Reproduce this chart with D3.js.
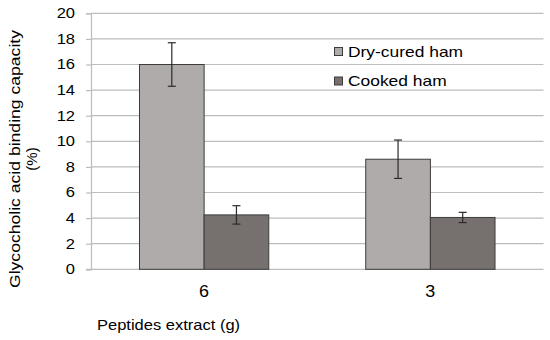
<!DOCTYPE html>
<html>
<head>
<meta charset="utf-8">
<script src="https://cdn.jsdelivr.net/npm/d3@7"></script>
<style>
  body { margin: 0; background: #fff; }
  svg { display: block; font-family: "Liberation Sans", Arial, sans-serif; }
</style>
</head>
<body>
<script>
"use strict";

// data
var categories = ["6", "3"];
var seriesNames = ["Dry-cured ham", "Cooked ham"];
var dryCured = [16.0, 8.6];
var dryCuredErr = [1.7, 1.5];
var cooked = [4.25, 4.05];
var cookedErr = [0.72, 0.4];
var yTicks = [0, 2, 4, 6, 8, 10, 12, 14, 16, 18, 20];

var colors = ["#afabaa", "#76716f"];

// stretch text horizontally (the picture is a bit wide)
function stretch(sel, sx) {
    sel.each(function() {
        var w = this.getComputedTextLength();
        d3.select(this).attr("textLength", w * sx).attr("lengthAdjust", "spacingAndGlyphs");
    });
}

(function() {
    var W = 550, H = 340;
    var left = 91, right = 543.5, top = 13.3, bottom = 269.3;

    var svg = d3.select("body").append("svg")
        .attr("width", W).attr("height", H);

    var y = d3.scaleLinear().domain([0, 20]).range([bottom, top]);
    var x0 = d3.scaleBand().domain(categories).range([left, right]).padding(0);
    var x1 = d3.scaleBand().domain(seriesNames).range([0, x0.bandwidth()])
        .paddingInner(0).paddingOuter(0.75);

    // gridlines
    svg.append("g").selectAll("line")
        .data(yTicks.filter(function(d) { return d > 0; }))
        .enter().append("line")
        .attr("x1", left).attr("x2", right)
        .attr("y1", function(d) { return y(d); })
        .attr("y2", function(d) { return y(d); })
        .attr("stroke", "#bdbdbd").attr("stroke-width", 1.2);

    // y axis
    var yAxis = svg.append("g")
        .attr("transform", "translate(" + left + ",0)")
        .call(d3.axisLeft(y).tickValues(yTicks).tickSize(5).tickPadding(11));
    yAxis.select(".domain").attr("stroke", "#bdbdbd").attr("stroke-width", 1.2);
    yAxis.selectAll(".tick line").attr("stroke", "#bdbdbd").attr("stroke-width", 1.2);
    yAxis.selectAll(".tick text")
        .attr("font-size", 14).attr("fill", "#000")
        .attr("font-family", "Liberation Sans, Arial, sans-serif");
    stretch(yAxis.selectAll(".tick text"), 1.18);

    // x axis line
    svg.append("line")
        .attr("x1", left - 5).attr("x2", right)
        .attr("y1", bottom).attr("y2", bottom)
        .attr("stroke", "#bdbdbd").attr("stroke-width", 1.2);

    var rows = categories.map(function(c, i) {
        return [
            { cat: c, s: seriesNames[0], v: dryCured[i], e: dryCuredErr[i], k: 0 },
            { cat: c, s: seriesNames[1], v: cooked[i], e: cookedErr[i], k: 1 }
        ];
    });
    var flat = d3.merge(rows);

    // bars
    svg.append("g").selectAll("rect")
        .data(flat).enter().append("rect")
        .attr("x", function(d) { return x0(d.cat) + x1(d.s); })
        .attr("y", function(d) { return y(d.v); })
        .attr("width", x1.bandwidth())
        .attr("height", function(d) { return bottom - y(d.v); })
        .attr("fill", function(d) { return colors[d.k]; })
        .attr("stroke", "#3c3c3c").attr("stroke-width", 1);

    // error bars
    var eb = svg.append("g").attr("stroke", "#2a2a2a").attr("stroke-width", 1.2);
    flat.forEach(function(d) {
        var cx = x0(d.cat) + x1(d.s) + x1.bandwidth() / 2;
        eb.append("line").attr("x1", cx).attr("x2", cx)
            .attr("y1", y(d.v + d.e)).attr("y2", y(d.v - d.e));
        [d.v + d.e, d.v - d.e].forEach(function(v) {
            eb.append("line").attr("x1", cx - 4).attr("x2", cx + 4)
                .attr("y1", y(v)).attr("y2", y(v));
        });
    });

    // x tick labels
    var xl = svg.append("g").selectAll("text")
        .data(categories).enter().append("text")
        .attr("x", function(d) { return x0(d) + x0.bandwidth() / 2; })
        .attr("y", 297)
        .attr("text-anchor", "middle")
        .attr("font-size", 16)
        .text(function(d) { return d; });
    stretch(xl, 1.12);

    // x title
    var xt = svg.append("text")
        .attr("x", 97).attr("y", 330)
        .attr("font-size", 15)
        .text("Peptides extract (g)");
    stretch(xt, 1.1);

    // y title
    var yt = svg.append("text")
        .attr("transform", "translate(20,159) rotate(-90)")
        .attr("text-anchor", "middle")
        .attr("font-size", 15);
    yt.append("tspan").attr("x", 0).attr("y", 0)
        .attr("textLength", 258).attr("lengthAdjust", "spacingAndGlyphs")
        .text("Glycocholic acid binding capacity");
    yt.append("tspan").attr("x", 0).attr("y", 17)
        .text("(%)");

    // legend
    var lg = svg.append("g").attr("transform", "translate(334,47)");
    seriesNames.forEach(function(s, i) {
        var g = lg.append("g").attr("transform", "translate(0," + (i * 29.5) + ")");
        g.append("rect").attr("x", 0.5).attr("y", 0.5).attr("width", 8).attr("height", 8)
            .attr("fill", colors[i]).attr("stroke", "#3c3c3c").attr("stroke-width", 1);
        var t = g.append("text").attr("x", 14).attr("y", 9.5)
            .attr("font-size", 15).text(s);
        stretch(t, 1.16);
    });
})();
</script>
</body>
</html>
